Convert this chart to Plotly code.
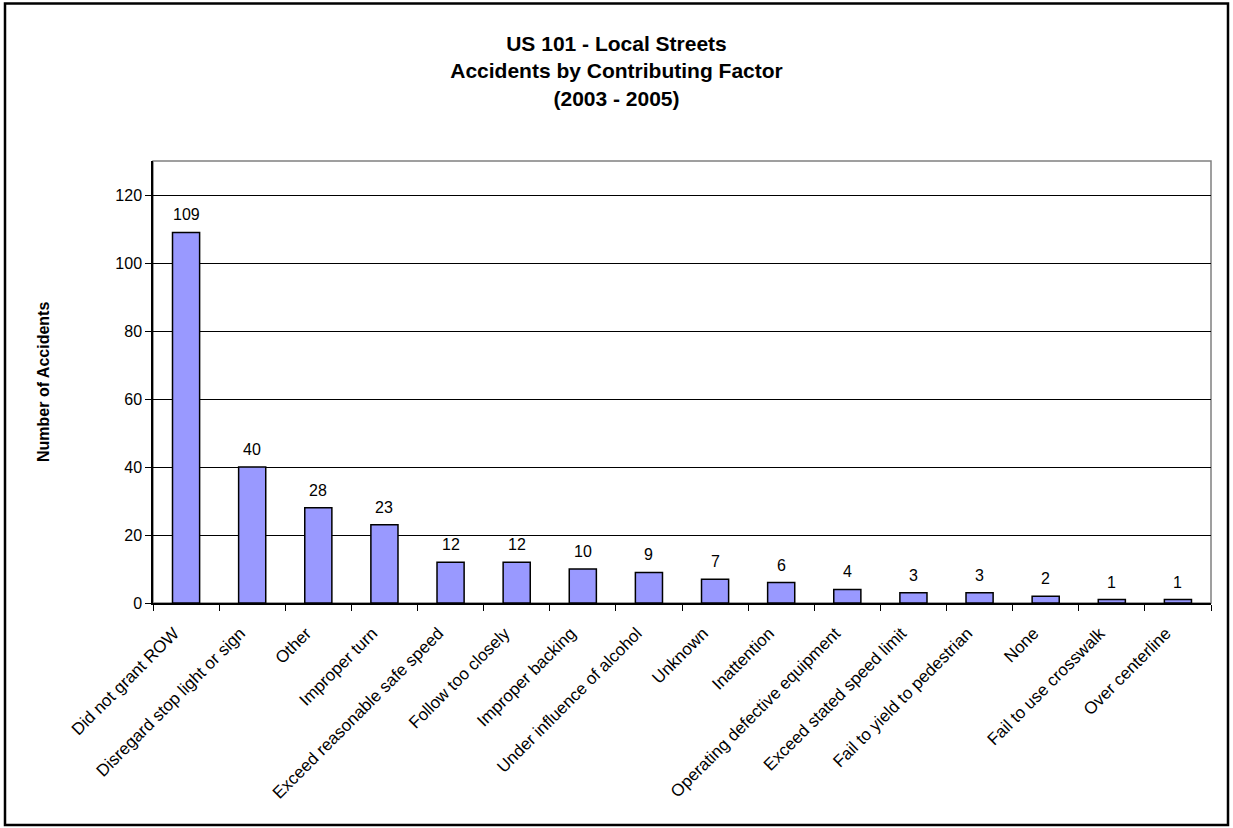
import plotly.graph_objects as go

# Contributing factors and accident counts, US 101 local streets, 2003-2005
factors = [
    "Did not grant ROW",
    "Disregard stop light or sign",
    "Other",
    "Improper turn",
    "Exceed reasonable safe speed",
    "Follow too closely",
    "Improper backing",
    "Under influence of alcohol",
    "Unknown",
    "Inattention",
    "Operating defective equipment",
    "Exceed stated speed limit",
    "Fail to yield to pedestrian",
    "None",
    "Fail to use crosswalk",
    "Over centerline",
]
accidents = [109, 40, 28, 23, 12, 12, 10, 9, 7, 6, 4, 3, 3, 2, 1, 1]

y_ticks = [0, 20, 40, 60, 80, 100, 120]

W, H = 1233, 828
L, R, T, B = 153, 22, 161, 225
plot_w = W - L - R
plot_h = H - T - B

FONT = "Liberation Sans, Arial, sans-serif"

fig = go.Figure()
fig.add_trace(
    go.Bar(
        x=factors,
        y=accidents,
        marker=dict(color="#9999FF", line=dict(color="#000000", width=1.5)),
        width=0.41,
        hoverinfo="x+y",
    )
)

# value labels above each bar
for f, v in zip(factors, accidents):
    fig.add_annotation(
        x=f, y=v, text=str(v), showarrow=False,
        yanchor="bottom", yshift=7,
        font=dict(family=FONT, size=16, color="#000000"),
    )

# y-axis title
fig.add_annotation(
    xref="paper", yref="paper",
    x=(43 - L) / plot_w, y=0.5,
    text="<b>Number of Accidents</b>", textangle=-90,
    showarrow=False, xanchor="center", yanchor="middle",
    font=dict(family=FONT, size=16, color="#000000"),
)

# plot-area border (gray top/right edges)
fig.add_shape(
    type="rect", xref="paper", yref="paper",
    x0=0, x1=1, y0=0, y1=1,
    line=dict(color="#808080", width=1.5), layer="below",
)

# outer chart frame
def px_to_paper_x(px):
    return (px - L) / plot_w

def px_to_paper_y(py):
    return (H - B - py) / plot_h

fig.add_shape(
    type="rect", xref="paper", yref="paper",
    x0=px_to_paper_x(5), x1=px_to_paper_x(1228),
    y0=px_to_paper_y(825), y1=px_to_paper_y(3.5),
    line=dict(color="#000000", width=2.5),
)

fig.update_layout(
    width=W, height=H,
    margin=dict(l=L, r=R, t=T, b=B, pad=0),
    paper_bgcolor="white",
    plot_bgcolor="white",
    showlegend=False,
    font=dict(family=FONT, size=16, color="#000000"),
    title=dict(
        text="<b>US 101 - Local Streets<br>Accidents by Contributing Factor<br>(2003 - 2005)</b>",
        x=0.5, xref="container", xanchor="center",
        y=1 - 51 / H, yref="container", yanchor="top",
        font=dict(family=FONT, size=21, color="#000000"),
    ),
    xaxis=dict(
        type="category",
        showline=True, linecolor="#000000", linewidth=1.5,
        ticks="outside", tickson="boundaries", ticklen=6,
        tickcolor="#000000", tickwidth=1,
        tickangle=-45,
        ticklabelstandoff=12,
        ticklabelshift=-12,
        tickfont=dict(family=FONT, size=17, color="#000000"),
        showgrid=False,
    ),
    yaxis=dict(
        range=[0, 130],
        tickvals=y_ticks,
        showline=True, linecolor="#000000", linewidth=1.5,
        ticks="outside", ticklen=6, tickcolor="#000000", tickwidth=1,
        showgrid=True, gridcolor="#000000", gridwidth=1,
        zeroline=False,
        tickfont=dict(family=FONT, size=16, color="#000000"),
    ),
    bargap=0.59,
)

fig.write_html("out.html")
